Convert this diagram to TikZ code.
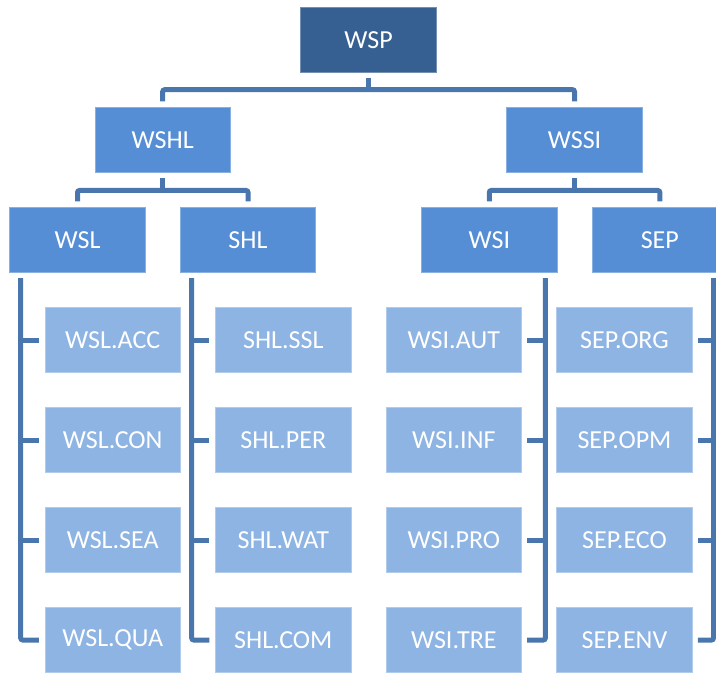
\documentclass[tikz,border=0pt]{standalone}
\usepackage{fontspec}
\setmainfont{Carlito}
\usetikzlibrary{calc}
\definecolor{topc}{HTML}{376092}
\definecolor{midc}{HTML}{558ED5}
\definecolor{leafc}{HTML}{8EB4E3}
\definecolor{linec}{HTML}{4A76AE}
\begin{document}
\begin{tikzpicture}[x=0.75pt,y=-0.75pt,
  box/.style={rectangle,minimum width=101.7pt,minimum height=48.7pt,inner sep=0pt,text=white,font=\fontsize{19.5pt}{22pt}\selectfont},
  topbox/.style={box,fill=topc,draw=topc!70!white,line width=0.5pt},
  midbox/.style={box,fill=midc,draw=midc!70!white,line width=0.5pt},
  leafbox/.style={box,fill=leafc,draw=leafc!70!white,line width=0.5pt},
  conn/.style={draw=linec,line width=3.75pt,rounded corners=1.5pt}]
\useasboundingbox (0,0) rectangle (716,673);
% nodes
\node[topbox] (wsp) at (368.5,39.7) {WSP};
\node[midbox] (wshl) at (162.7,139.8) {WSHL};
\node[midbox] (wssi) at (574.5,139.8) {WSSI};
\node[midbox] (wsl) at (77.5,239.8) {WSL};
\node[midbox] (shl) at (248,239.8) {SHL};
\node[midbox] (wsi) at (489.3,239.8) {WSI};
\node[midbox] (sep) at (659.8,239.8) {SEP};
% leaves
\node[leafbox] (wslacc) at (112.7,340) {WSL.ACC};
\node[leafbox] (wslcon) at (112.7,440) {WSL.CON};
\node[leafbox] (wslsea) at (112.7,540) {WSL.SEA};
\node[leafbox] (wslqua) at (112.7,640) {WSL.QUA};
\node[leafbox] (shlssl) at (283.3,340) {SHL.SSL};
\node[leafbox] (shlper) at (283.3,440) {SHL.PER};
\node[leafbox] (shlwat) at (283.3,540) {SHL.WAT};
\node[leafbox] (shlcom) at (283.3,640) {SHL.COM};
\node[leafbox] (wsiaut) at (453.8,340) {WSI.AUT};
\node[leafbox] (wsiinf) at (453.8,440) {WSI.INF};
\node[leafbox] (wsipro) at (453.8,540) {WSI.PRO};
\node[leafbox] (wsitre) at (453.8,640) {WSI.TRE};
\node[leafbox] (seporg) at (624.5,340) {SEP.ORG};
\node[leafbox] (sepopm) at (624.5,440) {SEP.OPM};
\node[leafbox] (sepeco) at (624.5,540) {SEP.ECO};
\node[leafbox] (sepenv) at (624.5,640) {SEP.ENV};
% level 1 connectors
\coordinate (topbus) at (368.5,89.7);
\draw[conn] ($(wsp.south)+(0,5.5)$) -- (topbus);
\draw[conn] ($(wshl.north)+(0,-5.5)$) |- (topbus) -| ($(wssi.north)+(0,-5.5)$);
% level 2 connectors
\coordinate (lbus) at (162.7,190.5);
\draw[conn] ($(wshl.south)+(0,5.5)$) -- (lbus);
\draw[conn] ($(wsl.north)+(0,-5.5)$) |- (lbus) -| ($(shl.north)+(0,-5.5)$);
\coordinate (rbus) at (574.5,190.5);
\draw[conn] ($(wssi.south)+(0,5.5)$) -- (rbus);
\draw[conn] ($(wsi.north)+(0,-5.5)$) |- (rbus) -| ($(sep.north)+(0,-5.5)$);
% leaf connectors
\coordinate (wslv) at (20.7,278);
\coordinate (shlv) at (191.7,278);
\coordinate (wsiv) at (545.3,278);
\coordinate (sepv) at (713.5,278);
\draw[conn] (wslv) |- ($(wslqua.west)+(-5.7,0)$);
\foreach \n in {wslacc,wslcon,wslsea} \draw[conn] (wslv |- \n.west) -- ($(\n.west)+(-5.7,0)$);
\draw[conn] (shlv) |- ($(shlcom.west)+(-5.7,0)$);
\foreach \n in {shlssl,shlper,shlwat} \draw[conn] (shlv |- \n.west) -- ($(\n.west)+(-5.7,0)$);
\draw[conn] (wsiv) |- ($(wsitre.east)+(5.3,0)$);
\foreach \n in {wsiaut,wsiinf,wsipro} \draw[conn] (wsiv |- \n.east) -- ($(\n.east)+(5.3,0)$);
\draw[conn] (sepv) |- ($(sepenv.east)+(5.3,0)$);
\foreach \n in {seporg,sepopm,sepeco} \draw[conn] (sepv |- \n.east) -- ($(\n.east)+(5.3,0)$);
\end{tikzpicture}
\end{document}
